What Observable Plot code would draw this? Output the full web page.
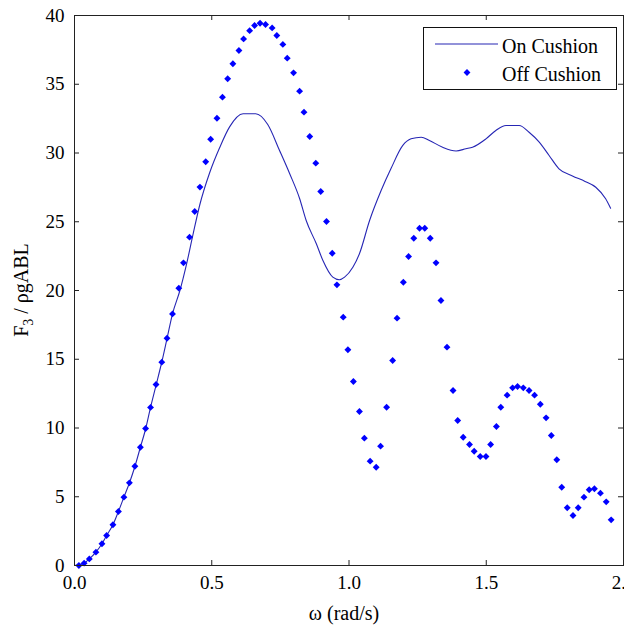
<!DOCTYPE html>
<html>
<head>
<meta charset="utf-8">
<script src="https://cdn.jsdelivr.net/npm/d3@7"></script>
<script src="https://cdn.jsdelivr.net/npm/@observablehq/plot@0.6"></script>
<style>
  html, body { margin: 0; padding: 0; background: #fff; }
  svg { display: block; }
  #chart svg, #chart svg text { font-family: 'Liberation Serif', 'Times New Roman', serif !important; }
</style>
</head>
<body>
<div id="chart"></div>
<script>
// ---- Data ----
const xTicks = [0, 0.5, 1, 1.5, 2];
const yTicks = [0, 5, 10, 15, 20, 25, 30, 35, 40];
const seriesNames = ["On Cushion", "Off Cushion"];
const xLabel = "ω (rad/s)";

// On Cushion (solid line)
const onOmega = [0, 0.035, 0.054, 0.078, 0.100, 0.117, 0.140, 0.160, 0.180, 0.200,
  0.220, 0.240, 0.260, 0.277, 0.297, 0.318, 0.337, 0.357, 0.384, 0.408,
  0.432, 0.456, 0.493, 0.529, 0.565, 0.614, 0.660, 0.704, 0.747, 0.784,
  0.820, 0.844, 0.881, 0.905, 0.941, 0.965, 0.984, 1.014, 1.038, 1.075,
  1.117, 1.153, 1.196, 1.226, 1.263, 1.293, 1.341, 1.390, 1.426, 1.450,
  1.499, 1.535, 1.572, 1.620, 1.656, 1.693, 1.729, 1.765, 1.814, 1.860,
  1.899, 1.935, 1.953];
const onF3 = [0, 0.17, 0.48, 0.97, 1.58, 2.18, 2.96, 3.93, 4.97, 6.0,
  7.2, 8.6, 10.0, 11.5, 13.1, 14.8, 16.5, 18.3, 20.0, 21.9,
  24.1, 26.2, 28.6, 30.4, 31.9, 32.85, 32.85, 32.07, 30.18, 28.49,
  26.69, 25.09, 23.4, 22.18, 20.97, 20.78, 20.97, 21.69, 22.67, 25.09,
  27.27, 28.87, 30.55, 31.03, 31.15, 30.91, 30.42, 30.15, 30.31, 30.42,
  31.03, 31.64, 32.0, 32.0, 31.51, 30.79, 29.82, 28.85, 28.33, 27.93,
  27.51, 26.67, 25.98];

// Off Cushion (diamond markers)
const offOmega = [0.016, 0.035, 0.054, 0.078, 0.100, 0.117, 0.140, 0.160, 0.180, 0.200,
  0.220, 0.240, 0.259, 0.277, 0.297, 0.318, 0.337, 0.357, 0.380, 0.397,
  0.419, 0.438, 0.457, 0.478, 0.496, 0.519, 0.539, 0.558, 0.577, 0.599,
  0.616, 0.638, 0.656, 0.676, 0.696, 0.720, 0.737, 0.759, 0.775, 0.798,
  0.820, 0.836, 0.857, 0.879, 0.897, 0.918, 0.939, 0.956, 0.979, 0.996,
  1.016, 1.038, 1.056, 1.077, 1.099, 1.115, 1.137, 1.159, 1.175, 1.198,
  1.217, 1.236, 1.257, 1.276, 1.296, 1.317, 1.335, 1.357, 1.379, 1.396,
  1.416, 1.439, 1.456, 1.478, 1.499, 1.516, 1.537, 1.553, 1.576, 1.596,
  1.614, 1.635, 1.656, 1.676, 1.697, 1.718, 1.737, 1.757, 1.775, 1.795,
  1.816, 1.835, 1.856, 1.875, 1.894, 1.916, 1.937, 1.955];
const offF3 = [0.0, 0.17, 0.48, 0.97, 1.58, 2.18, 2.96, 3.93, 4.97, 6.01,
  7.22, 8.6, 9.96, 11.5, 13.16, 14.79, 16.53, 18.3, 20.17, 22.01,
  23.88, 25.75, 27.52, 29.36, 31.0, 32.53, 34.06, 35.4, 36.49, 37.45,
  38.3, 38.9, 39.27, 39.44, 39.35, 39.1, 38.55, 37.9, 36.9, 35.83,
  34.5, 32.97, 31.2, 29.26, 27.2, 25.02, 22.71, 20.41, 18.06, 15.69,
  13.38, 11.2, 9.26, 7.59, 7.15, 8.68, 11.51, 14.91, 17.99, 20.6,
  22.47, 23.8, 24.53, 24.53, 23.8, 22.01, 19.27, 15.88, 12.73, 10.55,
  9.33, 8.8, 8.31, 7.93, 7.93, 8.8, 10.11, 11.51, 12.39, 12.92,
  13.02, 12.92, 12.73, 12.39, 11.73, 10.74, 9.45, 7.69, 5.69, 4.2,
  3.64, 4.2, 4.97, 5.51, 5.58, 5.26, 4.63, 3.32];

// ---- Build tables ----
const onData = onOmega.map((w, i) => ({w, f: onF3[i]}));
const offData = offOmega.map((w, i) => ({w, f: offF3[i]}));

const FONT = "'Liberation Serif', 'Times New Roman', serif";
const lineColor = "#2626b4";
const dotColor = "#0000ff";

const chart = Plot.plot({
  width: 624,
  height: 631,
  marginLeft: 74,
  marginRight: 1,
  marginTop: 15,
  marginBottom: 66,
  style: {fontFamily: FONT, fontSize: "19px", background: "#fff", color: "#000"},
  x: {domain: [0, 2]},
  y: {domain: [0, 40]},
  marks: [
    Plot.line(onData, {x: "w", y: "f", stroke: lineColor, strokeWidth: 1.1, curve: "monotone-x"}),
    Plot.dot(offData, {x: "w", y: "f", symbol: "diamond2", r: 3.1, fill: dotColor, stroke: "none"}),
    Plot.frame({stroke: "#222", strokeWidth: 1}),
    // inward ticks on all four sides (MATLAB style)
    Plot.tickX(xTicks, {x: d => d, insetTop: 545, stroke: "#222"}),
    Plot.tickX(xTicks, {x: d => d, insetBottom: 545, stroke: "#222"}),
    Plot.tickY(yTicks, {y: d => d, insetRight: 544, stroke: "#222"}),
    Plot.tickY(yTicks, {y: d => d, insetLeft: 544, stroke: "#222"}),
    Plot.axisX(xTicks, {tickSize: 0, tickPadding: 10, label: null, fontSize: 19, fontFamily: FONT}),
    Plot.axisY(yTicks, {tickSize: 0, tickPadding: 10, label: null, fontSize: 19, fontFamily: FONT}),
    Plot.text([xLabel], {text: d => d, frameAnchor: "bottom", dy: 54, dx: -5, fontSize: 20, fontFamily: FONT, fill: "#000"})
  ]
});

document.getElementById("chart").appendChild(chart);

// ---- y label with subscript ----
const svg = d3.select(chart);
const yScale = chart.scale("y");
const yc = (yScale.range[0] + yScale.range[1]) / 2;
const yl = svg.append("text")
  .attr("transform", `translate(28,${yc}) rotate(-90)`)
  .attr("text-anchor", "middle")
  .attr("fill", "#000")
  .style("font-family", FONT)
  .style("font-size", "20px");
yl.append("tspan").text("F");
yl.append("tspan").attr("dy", 5).style("font-size", "14px").text("3");
yl.append("tspan").attr("dy", -5).text(" / ρgABL");

// ---- legend ----
const leg = svg.append("g");
leg.append("rect")
  .attr("x", 423.5).attr("y", 27.5).attr("width", 193).attr("height", 62)
  .attr("fill", "#fff").attr("stroke", "#111");
leg.append("line")
  .attr("x1", 435).attr("x2", 498).attr("y1", 44).attr("y2", 44)
  .attr("stroke", lineColor).attr("stroke-width", 1.1);
leg.append("path")
  .attr("d", d3.symbol(d3.symbolDiamond2, Math.PI * 3.1 * 3.1)())
  .attr("transform", "translate(467,72.5)")
  .attr("fill", dotColor);
seriesNames.forEach((name, i) => {
  leg.append("text")
    .attr("x", 502).attr("y", 52.5 + i * 28.5)
    .attr("text-anchor", "start")
    .attr("fill", "#000")
    .style("font-family", FONT)
    .style("font-size", "20px")
    .text(name);
});
</script>
</body>
</html>
